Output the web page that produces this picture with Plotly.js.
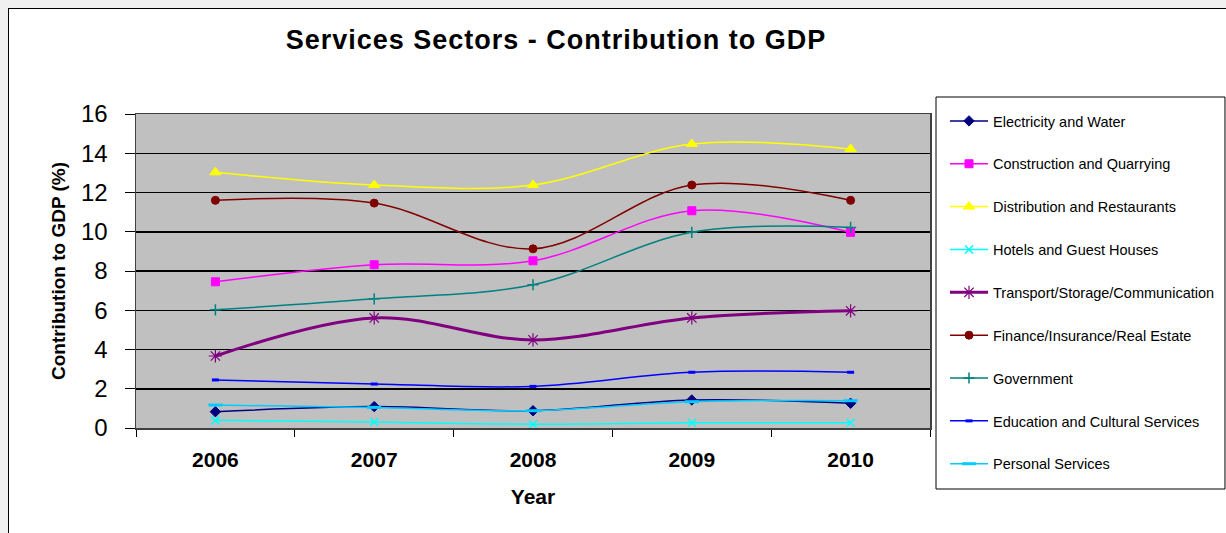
<!DOCTYPE html>
<html><head><meta charset="utf-8">
<script src="https://cdn.plot.ly/plotly-3.0.1.min.js"></script>
<style>
html,body{margin:0;padding:0;background:#f0f0f0;overflow:hidden;width:1226px;height:533px;}
#frame{position:absolute;left:8px;top:8px;width:1240px;height:560px;border:1px solid #000;background:#fff;}
#chart{position:absolute;left:0;top:0;width:1226px;height:533px;}
.gtitle{letter-spacing:1px;}
</style></head><body>
<div id="frame"></div>
<div id="chart"></div>
<script>
const years = ['2006','2007','2008','2009','2010'];
const electricity = [0.83, 1.09, 0.88, 1.43, 1.26];
const construction = [7.45, 8.32, 8.52, 11.07, 9.97];
const distribution = [13.03, 12.38, 12.38, 14.47, 14.22];
const hotels = [0.39, 0.31, 0.19, 0.27, 0.27];
const transport = [3.67, 5.61, 4.49, 5.61, 5.97];
const finance = [11.6, 11.46, 9.13, 12.38, 11.6];
const government = [6.02, 6.58, 7.3, 9.97, 10.22];
const education = [2.45, 2.24, 2.12, 2.84, 2.84];
const personal = [1.17, 1.05, 0.88, 1.34, 1.39];

function tr(name, y, color, symbol, size, lw, extra){
  const t = {x: years, y: y, name: name, type:'scatter', mode:'lines+markers',
    legendgroup: name,
    line:{color:color, width:lw, shape:'spline', smoothing:1},
    marker:{color:color, symbol:symbol, size:size, line:{color:color, width:1}}};
  if (extra) Object.assign(t.marker, extra);
  return t;
}
const data = [
  tr('Electricity and Water', electricity, '#000080', 'diamond', 8, 1.5),
  tr('Construction and Quarrying', construction, '#ff00ff', 'square', 8, 1.5),
  tr('Distribution and Restaurants', distribution, '#ffff00', 'triangle-up', 10, 1.5),
  tr('Hotels and Guest Houses', hotels, '#00ffff', 'x-thin-open', 8, 1.5, {line:{color:'#00ffff', width:1.5}}),
  tr('Transport/Storage/Communication', transport, '#800080', 'asterisk-open', 11, 3, {line:{color:'#800080', width:1.2}}),
  tr('Finance/Insurance/Real Estate', finance, '#800000', 'circle', 8, 1.5),
  tr('Government', government, '#008080', 'cross-thin-open', 8, 1.5, {line:{color:'#008080', width:1.5}}),
  tr('Education and Cultural Services', education, '#0000ff', 'line-ew-open', 5, 1.5, {line:{color:'#0000ff', width:3}}),
  tr('Personal Services', personal, '#00ccff', 'line-ew-open', 10, 1.5, {line:{color:'#00ccff', width:3}})
];

const layout = {
  width:1226, height:533,
  paper_bgcolor:'rgba(0,0,0,0)', plot_bgcolor:'#c0c0c0',
  margin:{l:136, r:296, t:114, b:105, autoexpand:false},
  font:{family:'Arial, Liberation Sans, sans-serif', color:'#000'},
  title:{text:'<b>Services Sectors - Contribution to GDP</b>', font:{size:27, color:'#000'},
    x:0.4535, xanchor:'center', xref:'container', y:0.925, yref:'container', yanchor:'middle'},
  xaxis:{type:'category', range:[-0.5,4.5], tickson:'boundaries', ticks:'outside', ticklen:7, tickcolor:'#000',
    showline:true, mirror:true, linecolor:'#404040', linewidth:1.5, showgrid:false, zeroline:false,
    tickfont:{size:21}, tickprefix:'<b>', ticksuffix:'</b>', ticklabelstandoff:12,
    title:{text:'<b>Year</b>', font:{size:21}, standoff:19}},
  yaxis:{range:[0,16], dtick:2, ticks:'outside', ticklen:10, tickcolor:'#000',
    showline:true, mirror:true, linecolor:'#404040', linewidth:1.5,
    showgrid:true, gridcolor:'#000', gridwidth:1.5, zeroline:false,
    tickfont:{size:24}, ticklabelstandoff:12,
    title:{text:'<b>Contribution to GDP (%)</b>', font:{size:19}, standoff:10}},
  legend:{x:1.0189, xanchor:'left', y:1.0287, yanchor:'top', bgcolor:'rgba(0,0,0,0)', borderwidth:0,
    font:{size:14.5}, tracegroupgap:21, itemwidth:38, maxheight:480},
  shapes:[{type:'rect', xref:'paper', yref:'paper', x0:1.00756, x1:1.3715, y0:-0.1943, y1:1.0541,
    line:{color:'#000', width:1}, fillcolor:'#fff', layer:'below'}],
  showlegend:true
};
Plotly.newPlot('chart', data, layout, {staticPlot:true});
</script></body></html>
